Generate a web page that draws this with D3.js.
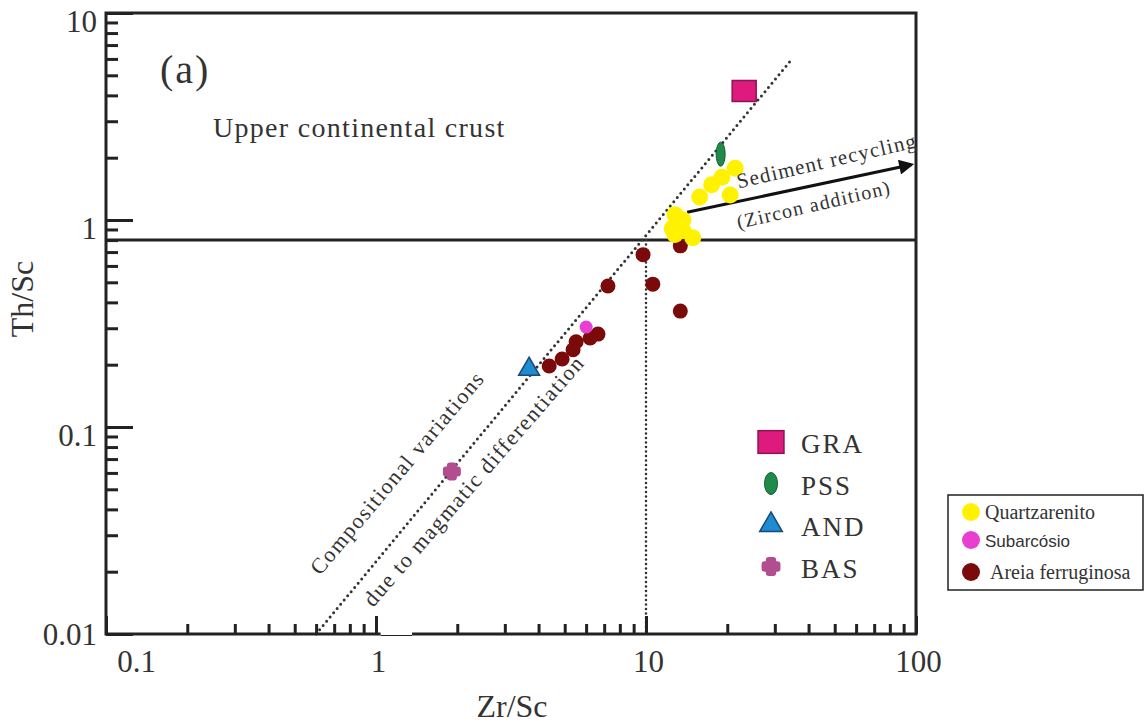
<!DOCTYPE html>
<html>
<head>
<meta charset="utf-8">
<script src="https://cdn.jsdelivr.net/npm/d3@7"></script>
<style>
  body { margin: 0; background: #fff; }
  svg text { font-family: "Liberation Serif", "Times New Roman", serif; fill: #333; }
</style>
</head>
<body>
<svg id="chart" width="1147" height="724"></svg>
<script>
// Th/Sc vs Zr/Sc discrimination plot (log-log)

// sample groups
var quartzZr = [21.4, 19.1, 17.5, 15.8, 20.5, 12.8, 13.7, 12.5, 12.8, 14.9, 13.7];
var quartzTh = [1.78, 1.61, 1.48, 1.29, 1.32, 1.06, 1.00, 0.91, 0.85, 0.82, 0.89];

var subarcZr = [6.0];
var subarcTh = [0.304];

var ferroZr = [9.75, 7.23, 10.6, 13.4, 13.4, 6.64, 6.21, 5.51, 5.37, 4.89, 4.38];
var ferroTh = [0.68, 0.48, 0.49, 0.363, 0.75, 0.281, 0.269, 0.258, 0.236, 0.213, 0.197];

// reference rocks
var refNames = ["GRA", "PSS", "AND", "BAS"];
var refZr = [23.1, 18.9, 3.69, 1.91];
var refTh = [4.2, 2.08, 0.19, 0.061];

// guide lines
var uccTh = 0.8;            // upper continental crust Th/Sc
var uccZr = 10;
var trendLine = [[0.6, 0.01], [34, 5.8]];
var recyclingArrow = [[14.2, 1.09], [96, 1.85]];

// ticks
var xMajor = [0.1, 1, 10, 100];
var xMajorLabels = ["0.1", "1", "10", "100"];
var yMajor = [0.01, 0.1, 1, 10];
var yMajorLabels = ["0.01", "0.1", "1", "10"];

var outsideNames = ["Quartzarenito", "Subarcósio", "Areia ferruginosa"];
var outsideColors = ["#fff200", "#e83fd0", "#7b0a0a"];

var mLeft = 106, mRight = 916, mTop = 13, mBottom = 634;

var svg = d3.select("#chart");

var x = d3.scaleLog().domain([0.1, 100]).range([mLeft, mRight]);
var y = d3.scaleLog().domain([0.01, 10]).range([mBottom, mTop]);

function minors(dom) {
  var out = [];
  for (var p = Math.round(Math.log10(dom[0])); p < Math.round(Math.log10(dom[1])); p++) {
    for (var m = 2; m <= 9; m++) out.push(m * Math.pow(10, p));
  }
  return out;
}

// reference lines
svg.append("line")
  .attr("x1", x(0.1)).attr("x2", x(100))
  .attr("y1", y(uccTh)).attr("y2", y(uccTh))
  .attr("stroke", "#222").attr("stroke-width", 3);

svg.append("line")
  .attr("x1", x(uccZr)).attr("x2", x(uccZr))
  .attr("y1", y(uccTh)).attr("y2", y(0.01))
  .attr("stroke", "#333").attr("stroke-width", 2.6)
  .attr("stroke-linecap", "round").attr("stroke-dasharray", "0 4.5");

svg.append("path")
  .datum(trendLine)
  .attr("d", d3.line().x(function(d) { return x(d[0]); }).y(function(d) { return y(d[1]); }))
  .attr("stroke", "#333").attr("stroke-width", 3).attr("fill", "none")
  .attr("stroke-linecap", "round").attr("stroke-dasharray", "0 5.5");

// arrow
svg.append("defs").append("marker")
  .attr("id", "head").attr("viewBox", "0 0 10 10")
  .attr("refX", 8).attr("refY", 5)
  .attr("markerWidth", 6).attr("markerHeight", 5)
  .attr("markerUnits", "strokeWidth")
  .attr("orient", "auto")
  .append("path").attr("d", "M0,0L10,5L0,10z").attr("fill", "#111");

svg.append("line")
  .attr("x1", x(recyclingArrow[0][0])).attr("y1", y(recyclingArrow[0][1]))
  .attr("x2", x(recyclingArrow[1][0])).attr("y2", y(recyclingArrow[1][1]))
  .attr("stroke", "#111").attr("stroke-width", 3)
  .attr("marker-end", "url(#head)");

// axes ticks
svg.append("g").attr("transform", "translate(" + mLeft + ",0)")
  .call(d3.axisLeft(y).tickValues(minors(y.domain())).tickSize(-12).tickFormat(""))
  .call(function(g) { g.select(".domain").remove(); });

var yAx = svg.append("g").attr("transform", "translate(" + mLeft + ",0)")
  .call(d3.axisLeft(y).tickValues(yMajor).tickSize(-27).tickPadding(9)
    .tickFormat(function(d, i) { return yMajorLabels[i]; }))
  .call(function(g) { g.select(".domain").remove(); });
yAx.selectAll("text")
  .attr("dy", function(d) { return d === 0.01 ? "0.35em" : "0.6em"; })
  .style("font-size", "31px");

svg.append("g").attr("transform", "translate(0," + mBottom + ")")
  .call(d3.axisBottom(x).tickValues(minors(x.domain())).tickSize(-10).tickFormat(""))
  .call(function(g) { g.select(".domain").remove(); });

var xAx = svg.append("g").attr("transform", "translate(0," + mBottom + ")")
  .call(d3.axisBottom(x).tickValues(xMajor).tickSize(-18).tickPadding(16)
    .tickFormat(function(d, i) { return xMajorLabels[i]; }))
  .call(function(g) { g.select(".domain").remove(); });
xAx.selectAll("text")
  .attr("dx", function(d) { return d === 0.1 ? 30 : 2; })
  .style("font-size", "31px");

svg.selectAll(".tick line").attr("stroke", "#222").attr("stroke-width", 3);
svg.selectAll(".tick text").attr("fill", "#333").attr("font-family", "Liberation Serif");

// frame
svg.append("rect")
  .attr("x", mLeft).attr("y", mTop)
  .attr("width", mRight - mLeft).attr("height", mBottom - mTop)
  .attr("fill", "none").attr("stroke", "#222").attr("stroke-width", 3);

// small break in the bottom axis
svg.append("rect")
  .attr("x", x(1.04)).attr("y", mBottom - 2)
  .attr("width", x(1.36) - x(1.04)).attr("height", 5)
  .attr("fill", "#fff");
svg.append("line")
  .attr("x1", x(1.04)).attr("x2", x(1.36))
  .attr("y1", mBottom + 1.5).attr("y2", mBottom + 1.5)
  .attr("stroke", "#222").attr("stroke-width", 1.2);

// sample points
svg.selectAll(".ferro")
  .data(ferroZr)
  .enter().append("circle")
  .attr("class", "ferro")
  .attr("cx", function(d) { return x(d); })
  .attr("cy", function(d, i) { return y(ferroTh[i]); })
  .attr("r", 7.5)
  .attr("fill", "#7b0a0a");

svg.selectAll(".subarc")
  .data(subarcZr)
  .enter().append("circle")
  .attr("class", "subarc")
  .attr("cx", function(d) { return x(d); })
  .attr("cy", function(d, i) { return y(subarcTh[i]); })
  .attr("r", 6.5)
  .attr("fill", "#e83fd0");

svg.selectAll(".quartz")
  .data(quartzZr)
  .enter().append("circle")
  .attr("class", "quartz")
  .attr("cx", function(d) { return x(d); })
  .attr("cy", function(d, i) { return y(quartzTh[i]); })
  .attr("r", 8.5)
  .attr("fill", "#fff200");

// reference rock symbols
function refSymbol(sel, name, inLegend) {
  var s = inLegend ? 1.08 : 1;
  if (name === "GRA") {
    sel.append("rect").attr("x", -12 * s).attr("y", -10.5 * s)
      .attr("width", 24 * s).attr("height", 21 * s)
      .attr("fill", "#de1a7e").attr("stroke", "#8c1450").attr("stroke-width", 1.5);
  } else if (name === "PSS") {
    sel.append("ellipse").attr("rx", inLegend ? 6.5 : 4.5).attr("ry", inLegend ? 11 : 12)
      .attr("fill", "#1f8a4a").attr("stroke", "#145c30").attr("stroke-width", 1);
  } else if (name === "AND") {
    sel.append("path").attr("d", d3.symbol(d3.symbolTriangle, 190 * s * s))
      .attr("fill", "#1f8bd0").attr("stroke", "#174a78").attr("stroke-width", 1.5);
  } else {
    sel.append("path").attr("d", d3.symbol(d3.symbolCross, 80 * s * s))
      .attr("fill", "#b24e90").attr("stroke", "#b24e90").attr("stroke-width", 6)
      .attr("stroke-linejoin", "round");
  }
}

refNames.forEach(function(n, i) {
  var g = svg.append("g").attr("transform", "translate(" + x(refZr[i]) + "," + y(refTh[i]) + ")");
  refSymbol(g, n, false);
});

// annotations
svg.append("text").attr("x", 160).attr("y", 83)
  .style("font-size", "40px").style("letter-spacing", "2px").text("(a)");

svg.append("text").attr("x", 213).attr("y", 137)
  .style("font-size", "28px").style("letter-spacing", "1.3px").text("Upper continental crust");

svg.append("text")
  .attr("transform", "translate(" + x(0.62) + "," + y(0.019) + ") rotate(-50)")
  .style("font-size", "22px").style("letter-spacing", "1.5px").text("Compositional variations");

svg.append("text")
  .attr("transform", "translate(" + x(0.975) + "," + y(0.01336) + ") rotate(-49)")
  .style("font-size", "22px").style("letter-spacing", "1.5px").text("due to magmatic differentiation");

svg.append("text")
  .attr("transform", "translate(" + x(22) + "," + y(1.42) + ") rotate(-13)")
  .style("font-size", "21px").style("letter-spacing", "1.2px").text("Sediment recycling");

svg.append("text")
  .attr("transform", "translate(" + x(22) + "," + y(0.905) + ") rotate(-13)")
  .style("font-size", "20px").style("letter-spacing", "1.2px").text("(Zircon addition)");

// inside legend
refNames.forEach(function(n, i) {
  var cy = 442 + i * 41.5;
  var g = svg.append("g").attr("transform", "translate(771," + cy + ")");
  refSymbol(g, n, true);
  svg.append("text").attr("x", 801).attr("y", cy + 11)
    .style("font-size", "27px").style("letter-spacing", "2px").text(n);
});

// outside legend
svg.append("rect")
  .attr("x", 948).attr("y", 495).attr("width", 195).attr("height", 95)
  .attr("fill", "#fff").attr("stroke", "#222").attr("stroke-width", 1.5);

outsideNames.forEach(function(n, i) {
  var cy = [512, 540, 572][i];
  svg.append("circle").attr("cx", 971).attr("cy", cy).attr("r", 9)
    .attr("fill", outsideColors[i]);
  svg.append("text").attr("x", i === 2 ? 990 : 985).attr("y", cy + 7)
    .style("font-size", i === 1 ? "17px" : "20px")
    .style("font-family", i === 1 ? "Liberation Sans, Arial, sans-serif" : null)
    .attr("fill", "#111")
    .text(n);
});

// axis titles
svg.append("text").attr("x", 512).attr("y", 717).attr("text-anchor", "middle")
  .style("font-size", "32px").text("Zr/Sc");

svg.append("text")
  .attr("transform", "translate(33,299) rotate(-90)").attr("text-anchor", "middle")
  .style("font-size", "32px").text("Th/Sc");
</script>
</body>
</html>
